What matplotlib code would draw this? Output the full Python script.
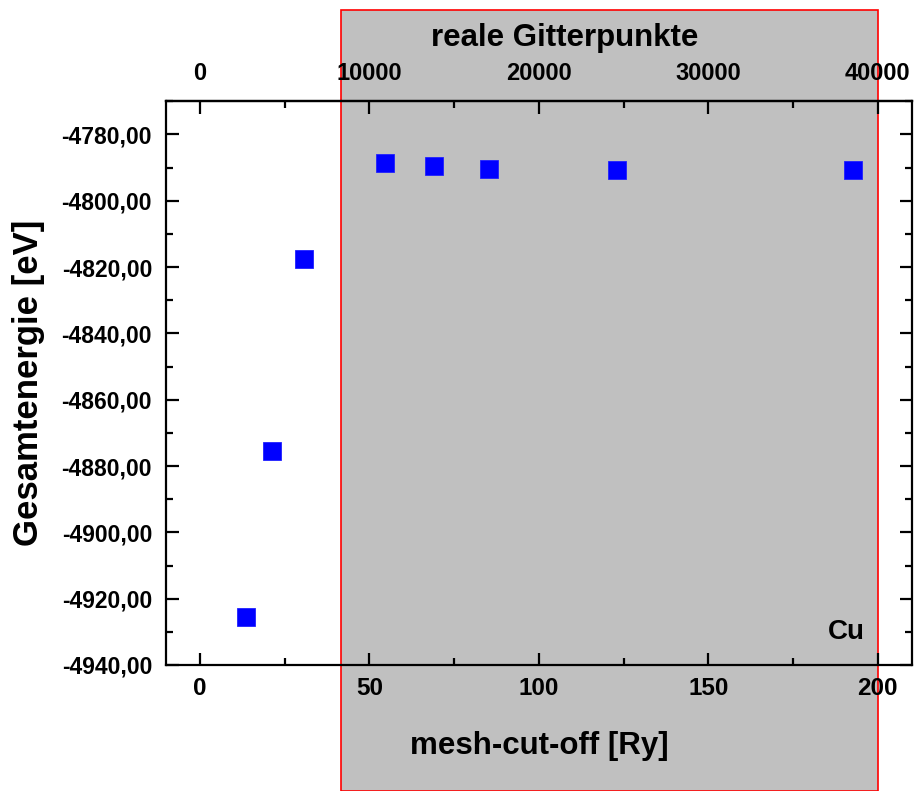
import matplotlib
matplotlib.use("Agg")
import matplotlib.pyplot as plt
from matplotlib import font_manager
from matplotlib.patches import Rectangle
from matplotlib.ticker import FixedLocator, FuncFormatter, MultipleLocator
from matplotlib.transforms import blended_transform_factory

# mesh cut-off in Ry and total energy in eV for Cu
cutoff_ry = [13.5, 21.2, 30.7, 54.6, 69.1, 85.4, 123.1, 192.6]
energy_ev = [-4925.6, -4875.5, -4817.5, -4788.7, -4789.6, -4790.4, -4790.6, -4790.6]

# highlighted cut-off range and conversion to real grid points
band_start, band_end = 41.7, 200.0
points_per_ry = 200.0
grid_major = [0, 10000, 20000, 30000, 40000]
grid_minor = [5000, 15000, 25000, 35000]

installed = {f.name for f in font_manager.fontManager.ttflist}
narrow = "Liberation Sans Narrow" if "Liberation Sans Narrow" in installed else "Liberation Sans"

plt.rcParams["font.family"] = ["Liberation Sans", "DejaVu Sans"]
plt.rcParams["font.weight"] = "bold"

fig = plt.figure(figsize=(9.14, 7.91), dpi=100)
ax = fig.add_axes([0.1816, 0.1593, 0.8159, 0.7126])
ax.patch.set_visible(False)

band = Rectangle(
    (band_start, 0.0), band_end - band_start, 0.987,
    transform=blended_transform_factory(ax.transData, fig.transFigure),
    facecolor="#c0c0c0", edgecolor="#ff0000", linewidth=1.2, zorder=-1,
)
fig.add_artist(band)

ax.plot(cutoff_ry, energy_ev, linestyle="none", marker="s", markersize=12.5,
        markerfacecolor="#0000ff", markeredgecolor="#2020ff", markeredgewidth=0.6,
        zorder=3)

ax.set_xlim(-10, 210)
ax.set_ylim(-4940, -4770)

ax.xaxis.set_major_locator(MultipleLocator(50))
ax.xaxis.set_minor_locator(MultipleLocator(25))
ax.yaxis.set_major_locator(MultipleLocator(20))
ax.yaxis.set_minor_locator(MultipleLocator(10))
ax.yaxis.set_major_formatter(FuncFormatter(lambda v, _: f"{v:.2f}".replace(".", ",")))

for side in ax.spines.values():
    side.set_linewidth(1.6)

ax.tick_params(which="both", direction="in", top=False, right=True, width=1.6)
ax.tick_params(which="major", length=9)
ax.tick_params(which="minor", length=5)
ax.tick_params(axis="y", labelsize=16.5, pad=10)
ax.tick_params(axis="x", labelsize=17.5, pad=9)
for lbl in ax.get_xticklabels():
    lbl.set_fontfamily([narrow, "Liberation Sans"])

ax.set_xlabel("mesh-cut-off [Ry]", fontsize=22.5, family=[narrow, "Liberation Sans"],
              fontweight="bold", labelpad=22)
ax.set_ylabel("Gesamtenergie [eV]", fontsize=25, fontweight="bold", labelpad=12)

top = ax.secondary_xaxis("top", functions=(lambda x: x * points_per_ry,
                                           lambda x: x / points_per_ry))
top.xaxis.set_major_locator(FixedLocator(grid_major))
top.xaxis.set_minor_locator(FixedLocator(grid_minor))
top.spines["top"].set_linewidth(1.6)
top.tick_params(which="both", direction="in", width=1.6, labelsize=17, pad=12)
top.tick_params(which="major", length=9)
top.tick_params(which="minor", length=5)

# title of the top axis sits above its tick labels
ax.text(0.535, 1.112, "reale Gitterpunkte", transform=ax.transAxes,
        fontsize=22.5, fontweight="bold", ha="center", va="center")

ax.text(0.912, 0.059, "Cu", transform=ax.transAxes, fontsize=20,
        fontweight="bold", ha="center", va="center")

fig.savefig("out.png", dpi=100)
